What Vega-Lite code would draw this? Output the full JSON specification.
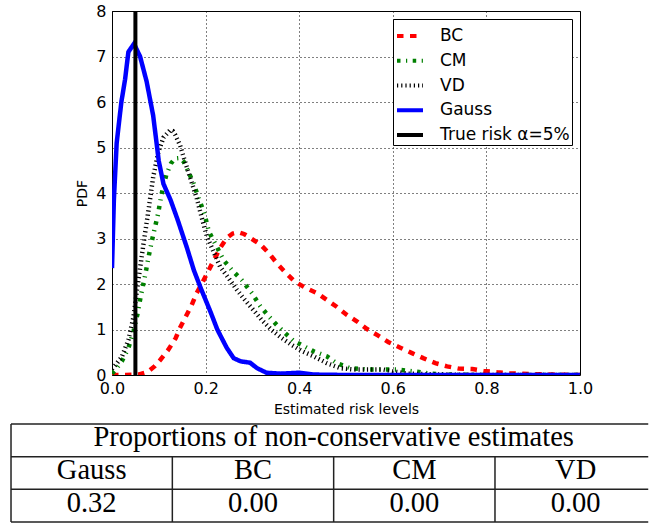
{
  "$schema": "https://vega.github.io/schema/vega-lite/v6.json",
  "padding": {"left": 10, "top": 2, "right": 0, "bottom": 0},
  "bounds": "flush",
  "spacing": 49,
  "config": {
    "font": "DejaVu Sans",
    "view": {"stroke": null},
    "axis": {
      "labelFont": "DejaVu Sans",
      "labelFontSize": 16,
      "labelColor": "black",
      "titleFont": "DejaVu Sans",
      "titleFontSize": 14,
      "titleFontWeight": "normal",
      "titleColor": "black",
      "domain": false,
      "ticks": false,
      "grid": true,
      "gridColor": "black",
      "gridOpacity": 1,
      "gridWidth": 1,
      "gridDash": [1, 3],
      "labelFlush": false,
      "labelOverlap": false
    },
    "legend": {
      "orient": "top-right",
      "offset": 8,
      "labelFont": "DejaVu Sans",
      "labelFontSize": 17,
      "labelColor": "black",
      "labelLimit": 300,
      "strokeColor": "black",
      "fillColor": "white",
      "padding": 2,
      "rowPadding": 1.75,
      "symbolType": "stroke",
      "symbolSize": 676,
      "symbolStrokeWidth": 4,
      "labelOffset": 15,
      "cornerRadius": 0
    }
  },
  "vconcat": [
    {
      "width": 468,
      "height": 364,
      "view": {"stroke": "black", "strokeWidth": 1},
      "layer": [
        {
          "data": {
            "values": [
              {"s": "BC", "x": 0, "y": 0},
              {"s": "BC", "x": 0.03, "y": 0},
              {"s": "BC", "x": 0.056, "y": 0.01},
              {"s": "BC", "x": 0.07, "y": 0.05},
              {"s": "BC", "x": 0.081, "y": 0.11},
              {"s": "BC", "x": 0.092, "y": 0.2},
              {"s": "BC", "x": 0.103, "y": 0.33},
              {"s": "BC", "x": 0.12, "y": 0.55},
              {"s": "BC", "x": 0.136, "y": 0.81},
              {"s": "BC", "x": 0.145, "y": 1.03},
              {"s": "BC", "x": 0.158, "y": 1.29},
              {"s": "BC", "x": 0.17, "y": 1.53},
              {"s": "BC", "x": 0.181, "y": 1.8},
              {"s": "BC", "x": 0.194, "y": 2.05},
              {"s": "BC", "x": 0.206, "y": 2.29},
              {"s": "BC", "x": 0.218, "y": 2.53},
              {"s": "BC", "x": 0.231, "y": 2.79},
              {"s": "BC", "x": 0.245, "y": 3.01},
              {"s": "BC", "x": 0.258, "y": 3.11},
              {"s": "BC", "x": 0.27, "y": 3.14},
              {"s": "BC", "x": 0.282, "y": 3.1},
              {"s": "BC", "x": 0.292, "y": 3.04},
              {"s": "BC", "x": 0.305, "y": 2.95},
              {"s": "BC", "x": 0.317, "y": 2.87},
              {"s": "BC", "x": 0.335, "y": 2.68},
              {"s": "BC", "x": 0.352, "y": 2.46},
              {"s": "BC", "x": 0.37, "y": 2.26},
              {"s": "BC", "x": 0.391, "y": 2.05},
              {"s": "BC", "x": 0.413, "y": 1.92},
              {"s": "BC", "x": 0.438, "y": 1.8},
              {"s": "BC", "x": 0.459, "y": 1.65},
              {"s": "BC", "x": 0.48, "y": 1.5},
              {"s": "BC", "x": 0.502, "y": 1.32},
              {"s": "BC", "x": 0.523, "y": 1.18},
              {"s": "BC", "x": 0.545, "y": 1.01},
              {"s": "BC", "x": 0.568, "y": 0.87},
              {"s": "BC", "x": 0.591, "y": 0.72},
              {"s": "BC", "x": 0.616, "y": 0.6},
              {"s": "BC", "x": 0.641, "y": 0.48},
              {"s": "BC", "x": 0.665, "y": 0.37},
              {"s": "BC", "x": 0.691, "y": 0.26},
              {"s": "BC", "x": 0.716, "y": 0.19},
              {"s": "BC", "x": 0.741, "y": 0.14},
              {"s": "BC", "x": 0.77, "y": 0.13},
              {"s": "BC", "x": 0.794, "y": 0.09},
              {"s": "BC", "x": 0.823, "y": 0.06},
              {"s": "BC", "x": 0.85, "y": 0.04},
              {"s": "BC", "x": 0.9, "y": 0.02},
              {"s": "BC", "x": 0.95, "y": 0.01},
              {"s": "BC", "x": 1.0, "y": 0.0},
              {"s": "CM", "x": 0, "y": 0.03},
              {"s": "CM", "x": 0.01, "y": 0.15},
              {"s": "CM", "x": 0.021, "y": 0.3},
              {"s": "CM", "x": 0.035, "y": 0.59},
              {"s": "CM", "x": 0.046, "y": 0.96},
              {"s": "CM", "x": 0.054, "y": 1.32},
              {"s": "CM", "x": 0.062, "y": 1.76},
              {"s": "CM", "x": 0.071, "y": 2.2},
              {"s": "CM", "x": 0.079, "y": 2.64},
              {"s": "CM", "x": 0.088, "y": 3.08},
              {"s": "CM", "x": 0.098, "y": 3.52},
              {"s": "CM", "x": 0.106, "y": 3.98},
              {"s": "CM", "x": 0.116, "y": 4.4},
              {"s": "CM", "x": 0.126, "y": 4.65},
              {"s": "CM", "x": 0.135, "y": 4.76},
              {"s": "CM", "x": 0.145, "y": 4.77},
              {"s": "CM", "x": 0.153, "y": 4.69},
              {"s": "CM", "x": 0.163, "y": 4.47},
              {"s": "CM", "x": 0.174, "y": 4.22},
              {"s": "CM", "x": 0.185, "y": 3.89},
              {"s": "CM", "x": 0.192, "y": 3.7},
              {"s": "CM", "x": 0.199, "y": 3.48},
              {"s": "CM", "x": 0.207, "y": 3.15},
              {"s": "CM", "x": 0.224, "y": 2.82},
              {"s": "CM", "x": 0.238, "y": 2.53},
              {"s": "CM", "x": 0.256, "y": 2.31},
              {"s": "CM", "x": 0.277, "y": 2.09},
              {"s": "CM", "x": 0.299, "y": 1.8},
              {"s": "CM", "x": 0.317, "y": 1.51},
              {"s": "CM", "x": 0.335, "y": 1.29},
              {"s": "CM", "x": 0.352, "y": 1.1},
              {"s": "CM", "x": 0.37, "y": 0.92},
              {"s": "CM", "x": 0.388, "y": 0.75},
              {"s": "CM", "x": 0.405, "y": 0.66},
              {"s": "CM", "x": 0.431, "y": 0.52},
              {"s": "CM", "x": 0.459, "y": 0.41},
              {"s": "CM", "x": 0.48, "y": 0.26},
              {"s": "CM", "x": 0.509, "y": 0.15},
              {"s": "CM", "x": 0.545, "y": 0.12},
              {"s": "CM", "x": 0.61, "y": 0.12},
              {"s": "CM", "x": 0.66, "y": 0.06},
              {"s": "CM", "x": 0.68, "y": 0.03},
              {"s": "CM", "x": 0.72, "y": 0.01},
              {"s": "CM", "x": 0.8, "y": 0},
              {"s": "CM", "x": 1.0, "y": 0},
              {"s": "VD", "x": 0, "y": 0.13},
              {"s": "VD", "x": 0.01, "y": 0.25},
              {"s": "VD", "x": 0.021, "y": 0.4},
              {"s": "VD", "x": 0.035, "y": 0.77},
              {"s": "VD", "x": 0.046, "y": 1.28},
              {"s": "VD", "x": 0.053, "y": 1.84},
              {"s": "VD", "x": 0.06, "y": 2.35},
              {"s": "VD", "x": 0.067, "y": 2.86},
              {"s": "VD", "x": 0.077, "y": 3.55},
              {"s": "VD", "x": 0.088, "y": 4.35},
              {"s": "VD", "x": 0.099, "y": 4.9},
              {"s": "VD", "x": 0.11, "y": 5.22},
              {"s": "VD", "x": 0.124, "y": 5.38},
              {"s": "VD", "x": 0.13, "y": 5.36},
              {"s": "VD", "x": 0.135, "y": 5.28},
              {"s": "VD", "x": 0.145, "y": 5.06},
              {"s": "VD", "x": 0.154, "y": 4.76},
              {"s": "VD", "x": 0.163, "y": 4.47},
              {"s": "VD", "x": 0.172, "y": 4.18},
              {"s": "VD", "x": 0.181, "y": 3.89},
              {"s": "VD", "x": 0.192, "y": 3.45},
              {"s": "VD", "x": 0.203, "y": 3.04},
              {"s": "VD", "x": 0.217, "y": 2.71},
              {"s": "VD", "x": 0.231, "y": 2.38},
              {"s": "VD", "x": 0.249, "y": 2.13},
              {"s": "VD", "x": 0.267, "y": 1.87},
              {"s": "VD", "x": 0.284, "y": 1.65},
              {"s": "VD", "x": 0.302, "y": 1.43},
              {"s": "VD", "x": 0.32, "y": 1.21},
              {"s": "VD", "x": 0.341, "y": 0.99},
              {"s": "VD", "x": 0.363, "y": 0.81},
              {"s": "VD", "x": 0.384, "y": 0.66},
              {"s": "VD", "x": 0.405, "y": 0.53},
              {"s": "VD", "x": 0.431, "y": 0.41},
              {"s": "VD", "x": 0.459, "y": 0.26},
              {"s": "VD", "x": 0.488, "y": 0.15},
              {"s": "VD", "x": 0.516, "y": 0.12},
              {"s": "VD", "x": 0.58, "y": 0.12},
              {"s": "VD", "x": 0.6, "y": 0.08},
              {"s": "VD", "x": 0.63, "y": 0.03},
              {"s": "VD", "x": 0.7, "y": 0.01},
              {"s": "VD", "x": 0.8, "y": 0},
              {"s": "VD", "x": 1.0, "y": 0},
              {"s": "Gauss", "x": 0, "y": 2.35},
              {"s": "Gauss", "x": 0.004, "y": 3.85},
              {"s": "Gauss", "x": 0.01, "y": 5.1},
              {"s": "Gauss", "x": 0.02, "y": 6.0},
              {"s": "Gauss", "x": 0.028, "y": 6.5},
              {"s": "Gauss", "x": 0.035, "y": 7.1},
              {"s": "Gauss", "x": 0.047, "y": 7.28},
              {"s": "Gauss", "x": 0.06, "y": 7.0},
              {"s": "Gauss", "x": 0.074, "y": 6.45},
              {"s": "Gauss", "x": 0.088, "y": 5.7},
              {"s": "Gauss", "x": 0.1, "y": 4.7},
              {"s": "Gauss", "x": 0.11, "y": 4.2},
              {"s": "Gauss", "x": 0.125, "y": 3.85},
              {"s": "Gauss", "x": 0.14, "y": 3.42},
              {"s": "Gauss", "x": 0.16, "y": 2.8},
              {"s": "Gauss", "x": 0.175, "y": 2.3},
              {"s": "Gauss", "x": 0.19, "y": 1.9},
              {"s": "Gauss", "x": 0.21, "y": 1.4},
              {"s": "Gauss", "x": 0.225, "y": 1.0},
              {"s": "Gauss", "x": 0.245, "y": 0.6},
              {"s": "Gauss", "x": 0.26, "y": 0.37},
              {"s": "Gauss", "x": 0.275, "y": 0.3},
              {"s": "Gauss", "x": 0.295, "y": 0.27},
              {"s": "Gauss", "x": 0.31, "y": 0.15},
              {"s": "Gauss", "x": 0.33, "y": 0.05},
              {"s": "Gauss", "x": 0.36, "y": 0.03},
              {"s": "Gauss", "x": 0.4, "y": 0.05},
              {"s": "Gauss", "x": 0.43, "y": 0.01},
              {"s": "Gauss", "x": 0.5, "y": 0.0},
              {"s": "Gauss", "x": 1.0, "y": 0.0}
            ]
          },
          "mark": {"type": "line", "strokeWidth": 4.5, "strokeCap": "butt", "clip": true},
          "encoding": {
            "x": {"field": "x", "type": "quantitative", "scale": {"domain": [0, 1], "nice": false},
                  "axis": {"values": [0, 0.2, 0.4, 0.6, 0.8, 1.0], "format": ".1f", "title": "Estimated risk levels", "labelPadding": 5, "titlePadding": 6}},
            "y": {"field": "y", "type": "quantitative", "scale": {"domain": [0, 8], "nice": false},
                  "axis": {"values": [0, 1, 2, 3, 4, 5, 6, 7, 8], "format": "d", "title": "PDF", "labelPadding": 6, "titlePadding": 6}},
            "color": {"field": "s", "type": "nominal", "title": null,
                      "scale": {"domain": ["BC", "CM", "VD", "Gauss", "True risk α=5%"], "range": ["#ff0000", "#008000", "#000000", "#0000ff", "#000000"]}},
            "strokeDash": {"field": "s", "type": "nominal", "title": null,
                           "scale": {"domain": ["BC", "CM", "VD", "Gauss", "True risk α=5%"], "range": [[6.5, 6.5], [3.5, 5.5, 1.2, 5.5], [1.2, 3], [1, 0], [1, 0]]}}
          }
        },
        {
          "data": {"values": [{"s": "True risk α=5%", "x": 0.05}]},
          "mark": {"type": "rule", "strokeWidth": 4},
          "encoding": {
            "x": {"field": "x", "type": "quantitative"},
            "color": {"field": "s", "type": "nominal", "title": null},
            "strokeDash": {"field": "s", "type": "nominal", "title": null}
          }
        }
      ]
    },
    {
      "width": 468,
      "height": 98,
      "view": {"stroke": null},
      "layer": [
        {
          "data": {
            "values": [
              {"xa": 0, "xb": 3.95, "ya": 0, "yb": 0},
              {"xa": 0, "xb": 3.95, "ya": 1, "yb": 1},
              {"xa": 0, "xb": 3.95, "ya": 2, "yb": 2},
              {"xa": 0, "xb": 3.95, "ya": 3, "yb": 3},
              {"xa": 0, "xb": 0, "ya": 0, "yb": 3},
              {"xa": 1, "xb": 1, "ya": 1, "yb": 3},
              {"xa": 2, "xb": 2, "ya": 1, "yb": 3},
              {"xa": 3, "xb": 3, "ya": 1, "yb": 3}
            ]
          },
          "mark": {"type": "rule", "color": "#222222", "strokeWidth": 1.5},
          "encoding": {
            "x": {"field": "xa", "type": "quantitative", "scale": {"domain": [0.626, 3.527], "nice": false, "zero": false}, "axis": null},
            "x2": {"field": "xb"},
            "y": {"field": "ya", "type": "quantitative", "scale": {"domain": [0, 3], "nice": false, "reverse": true}, "axis": null},
            "y2": {"field": "yb"}
          }
        },
        {
          "data": {
            "values": [
              {"t": "Proportions of non-conservative estimates", "c": 2, "r": 0.5},
              {"t": "Gauss", "c": 0.5, "r": 1.5},
              {"t": "BC", "c": 1.5, "r": 1.5},
              {"t": "CM", "c": 2.5, "r": 1.5},
              {"t": "VD", "c": 3.5, "r": 1.5},
              {"t": "0.32", "c": 0.5, "r": 2.5},
              {"t": "0.00", "c": 1.5, "r": 2.5},
              {"t": "0.00", "c": 2.5, "r": 2.5},
              {"t": "0.00", "c": 3.5, "r": 2.5}
            ]
          },
          "mark": {"type": "text", "font": "Liberation Serif", "fontSize": 28.5, "baseline": "alphabetic", "dy": 6, "color": "black"},
          "encoding": {
            "x": {"field": "c", "type": "quantitative"},
            "y": {"field": "r", "type": "quantitative"},
            "text": {"field": "t", "type": "nominal"}
          }
        }
      ]
    }
  ]
}
